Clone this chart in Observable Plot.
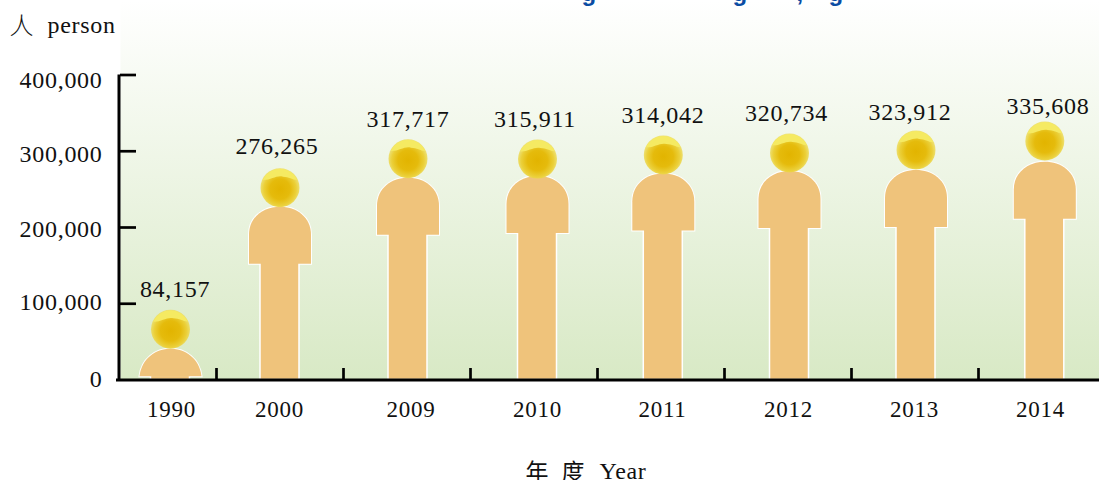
<!DOCTYPE html>
<html><head><meta charset="utf-8">
<script src="https://cdn.jsdelivr.net/npm/d3@7"></script>
<script src="https://cdn.jsdelivr.net/npm/@observablehq/plot@0.6"></script>
<style>
html,body{margin:0;padding:0;background:#fff}
svg{display:block}
svg text{letter-spacing:0.7px}
</style></head><body><div id="chart"></div>
<script>
const years = ["1990","2000","2009","2010","2011","2012","2013","2014"];
const persons = [84157,276265,317717,315911,314042,320734,323912,335608];
const yTicks = [0,100000,200000,300000,400000];

const data = years.map((year,i)=>({year,value:persons[i]}));
const fmt = d3.format(",");
const SERIF="Liberation Serif", CJK="Noto Sans CJK TC", SANS="Liberation Sans";
// per-figure nudges in pixels, the pictogram layout is slightly hand-placed in the original
const nudge = {
  "1990":{dx:17.5,head:13.5,body:33,  ldx:22,  ldy:-27,tdx:18.5},
  "2000":{dx:0,   head:18.3,body:37.3,ldx:-3,  ldy:-23,tdx:-0.5},
  "2009":{dx:1,   head:21,  body:40,  ldx:1,   ldy:-18,tdx:4},
  "2010":{dx:3.5, head:20,  body:37,  ldx:1,   ldy:-20,tdx:3.5},
  "2011":{dx:2.3, head:14.5,body:33,  ldx:2,   ldy:-25,tdx:1.5},
  "2012":{dx:1.5, head:17.6,body:35.6,ldx:-1.5,ldy:-22,tdx:0.5},
  "2013":{dx:1,   head:17,  body:37,  ldx:-5,  ldy:-21,tdx:-0.5},
  "2014":{dx:2.8, head:17,  body:37.6,ldx:6,   ldy:-18,tdx:-1.5}
};
const labelDy = {0:-1,100000:-1,200000:2,300000:3,400000:5};
const TAN="#efc37b";
const defs = () => {
  const g=document.createElementNS("http://www.w3.org/2000/svg","g");
  g.innerHTML=`<defs>
  <linearGradient id="bg" x1="0" y1="0" x2="0" y2="1"><stop offset="0" stop-color="#ffffff"/><stop offset="1" stop-color="#d8e9c5"/></linearGradient>
  <radialGradient id="head" cx="0.5" cy="0.54" r="0.52"><stop offset="0" stop-color="#e2b400"/><stop offset="0.5" stop-color="#e5bb0c"/><stop offset="0.8" stop-color="#ebd03a"/><stop offset="1" stop-color="#eddc5c" stop-opacity="0.8"/></radialGradient>
  </defs>`;
  return g;
};
const bodySym = {draw(c){ // dome with shoulders, origin at top centre
  c.moveTo(-31,57);c.lineTo(-31,28);c.bezierCurveTo(-31,10,-16,0,0,0);c.bezierCurveTo(16,0,31,10,31,28);c.lineTo(31,57);c.closePath();
}};
const domeSym = {draw(c){
  c.moveTo(-31,27.5);c.bezierCurveTo(-29,10,-15,0,0,0);c.bezierCurveTo(15,0,29,10,31,27.5);c.closePath();
}};
const capSym = {draw(c){ // lighter cap on top of the head
  const a=0.42, R=19;
  c.moveTo(-R*Math.cos(a),-R*Math.sin(a));
  c.arc(0,0,R,Math.PI+a,2*Math.PI-a);
  c.bezierCurveTo(12,-8,9,-11,3,-11);c.bezierCurveTo(-3,-13,-10,-7,-R*Math.cos(a),-R*Math.sin(a));c.closePath();
}};

const figure = d => {
  const n=nudge[d.year];
  const one=[d];
  const isSmall=d.year==="1990";
  const sym=isSmall?domeSym:bodySym;
  const opts={x:"year",y:"value",dx:n.dx,dy:n.body};
  return [
    Plot.dot(one,{...opts,symbol:sym,r:10,fill:TAN,stroke:"#fff",strokeWidth:2}),
    Plot.barY(one,{x:"year",y:"value",dx:n.dx,fill:TAN,stroke:"#fff",strokeWidth:1.5,
      insetLeft:44,insetRight:44,insetTop:n.body+(isSmall?27:40)}),
    Plot.dot(one,{...opts,symbol:sym,r:10,fill:TAN}),
    Plot.dot(one,{x:"year",y:"value",dx:n.dx,dy:n.head,r:19.5,fill:"url(#head)"}),
    Plot.dot(one,{x:"year",y:"value",dx:n.dx,dy:n.head,symbol:capSym,r:10,fill:"#f5ea62"}),
    Plot.text(one,{x:"year",y:"value",text:e=>fmt(e.value),dx:n.ldx,dy:n.ldy,fontSize:24,fontFamily:SERIF,fill:"#111"}),
    Plot.text(one,{x:"year",text:"year",dx:n.tdx,frameAnchor:"bottom",lineAnchor:"bottom",dy:36.5,fontSize:23,fontFamily:SERIF,fill:"#111"})
  ];
};
const note = (text,x,baseline,font,size,extra={}) => Plot.text([text],{text:d=>d,frameAnchor:"top-left",textAnchor:"start",lineAnchor:"bottom",dx:x-120,dy:baseline,fontFamily:font,fontSize:size,fill:"#111",...extra});

const chart = Plot.plot({
  width:1099,height:480,marginLeft:120,marginRight:0,marginTop:0,marginBottom:100,
  style:{overflow:"hidden"},
  x:{type:"band",domain:years,range:[89,1105],padding:0,axis:null},
  y:{domain:[0,400000],range:[379.5,74.5],axis:null},
  marks:[
    defs,
    Plot.frame({fill:"url(#bg)"}),
    data.flatMap(figure),
    // clipped title: only the descenders are visible at the picture's top edge
    [["g",581],["g",732],[",",796],["g",828]].map(([t,x])=>note(t,x,0,SANS,24,{fill:"#0b4ca3",fontWeight:"bold"})),
    Plot.tickY(yTicks.slice(1),{y:d=>d,stroke:"#000",strokeWidth:2.7,insetRight:963}),
    Plot.ruleX(["1990"],{x:d=>d,y1:0,y2:400000,dx:-34,stroke:"#000",strokeWidth:3}),
    Plot.tickX(years.slice(0,7),{x:d=>d,dx:63.5,stroke:"#000",strokeWidth:2.7,insetTop:368}),
    Plot.ruleY([0],{stroke:"#000",strokeWidth:3,insetLeft:-4}),
    yTicks.map(t=>Plot.text([t],{y:d=>d,text:d=>fmt(d),frameAnchor:"left",textAnchor:"end",dx:-18,dy:labelDy[t],fontSize:24,fontFamily:SERIF,fill:"#111"})),
    note("人",9,33,CJK,24,{fontWeight:300}),
    note("person",47,32,SERIF,24),
    note("年",525,479,CJK,23),
    note("度",561,479,CJK,23),
    note("Year",599,478,SERIF,24)
  ]
});
document.getElementById("chart").append(chart);
</script></body></html>
